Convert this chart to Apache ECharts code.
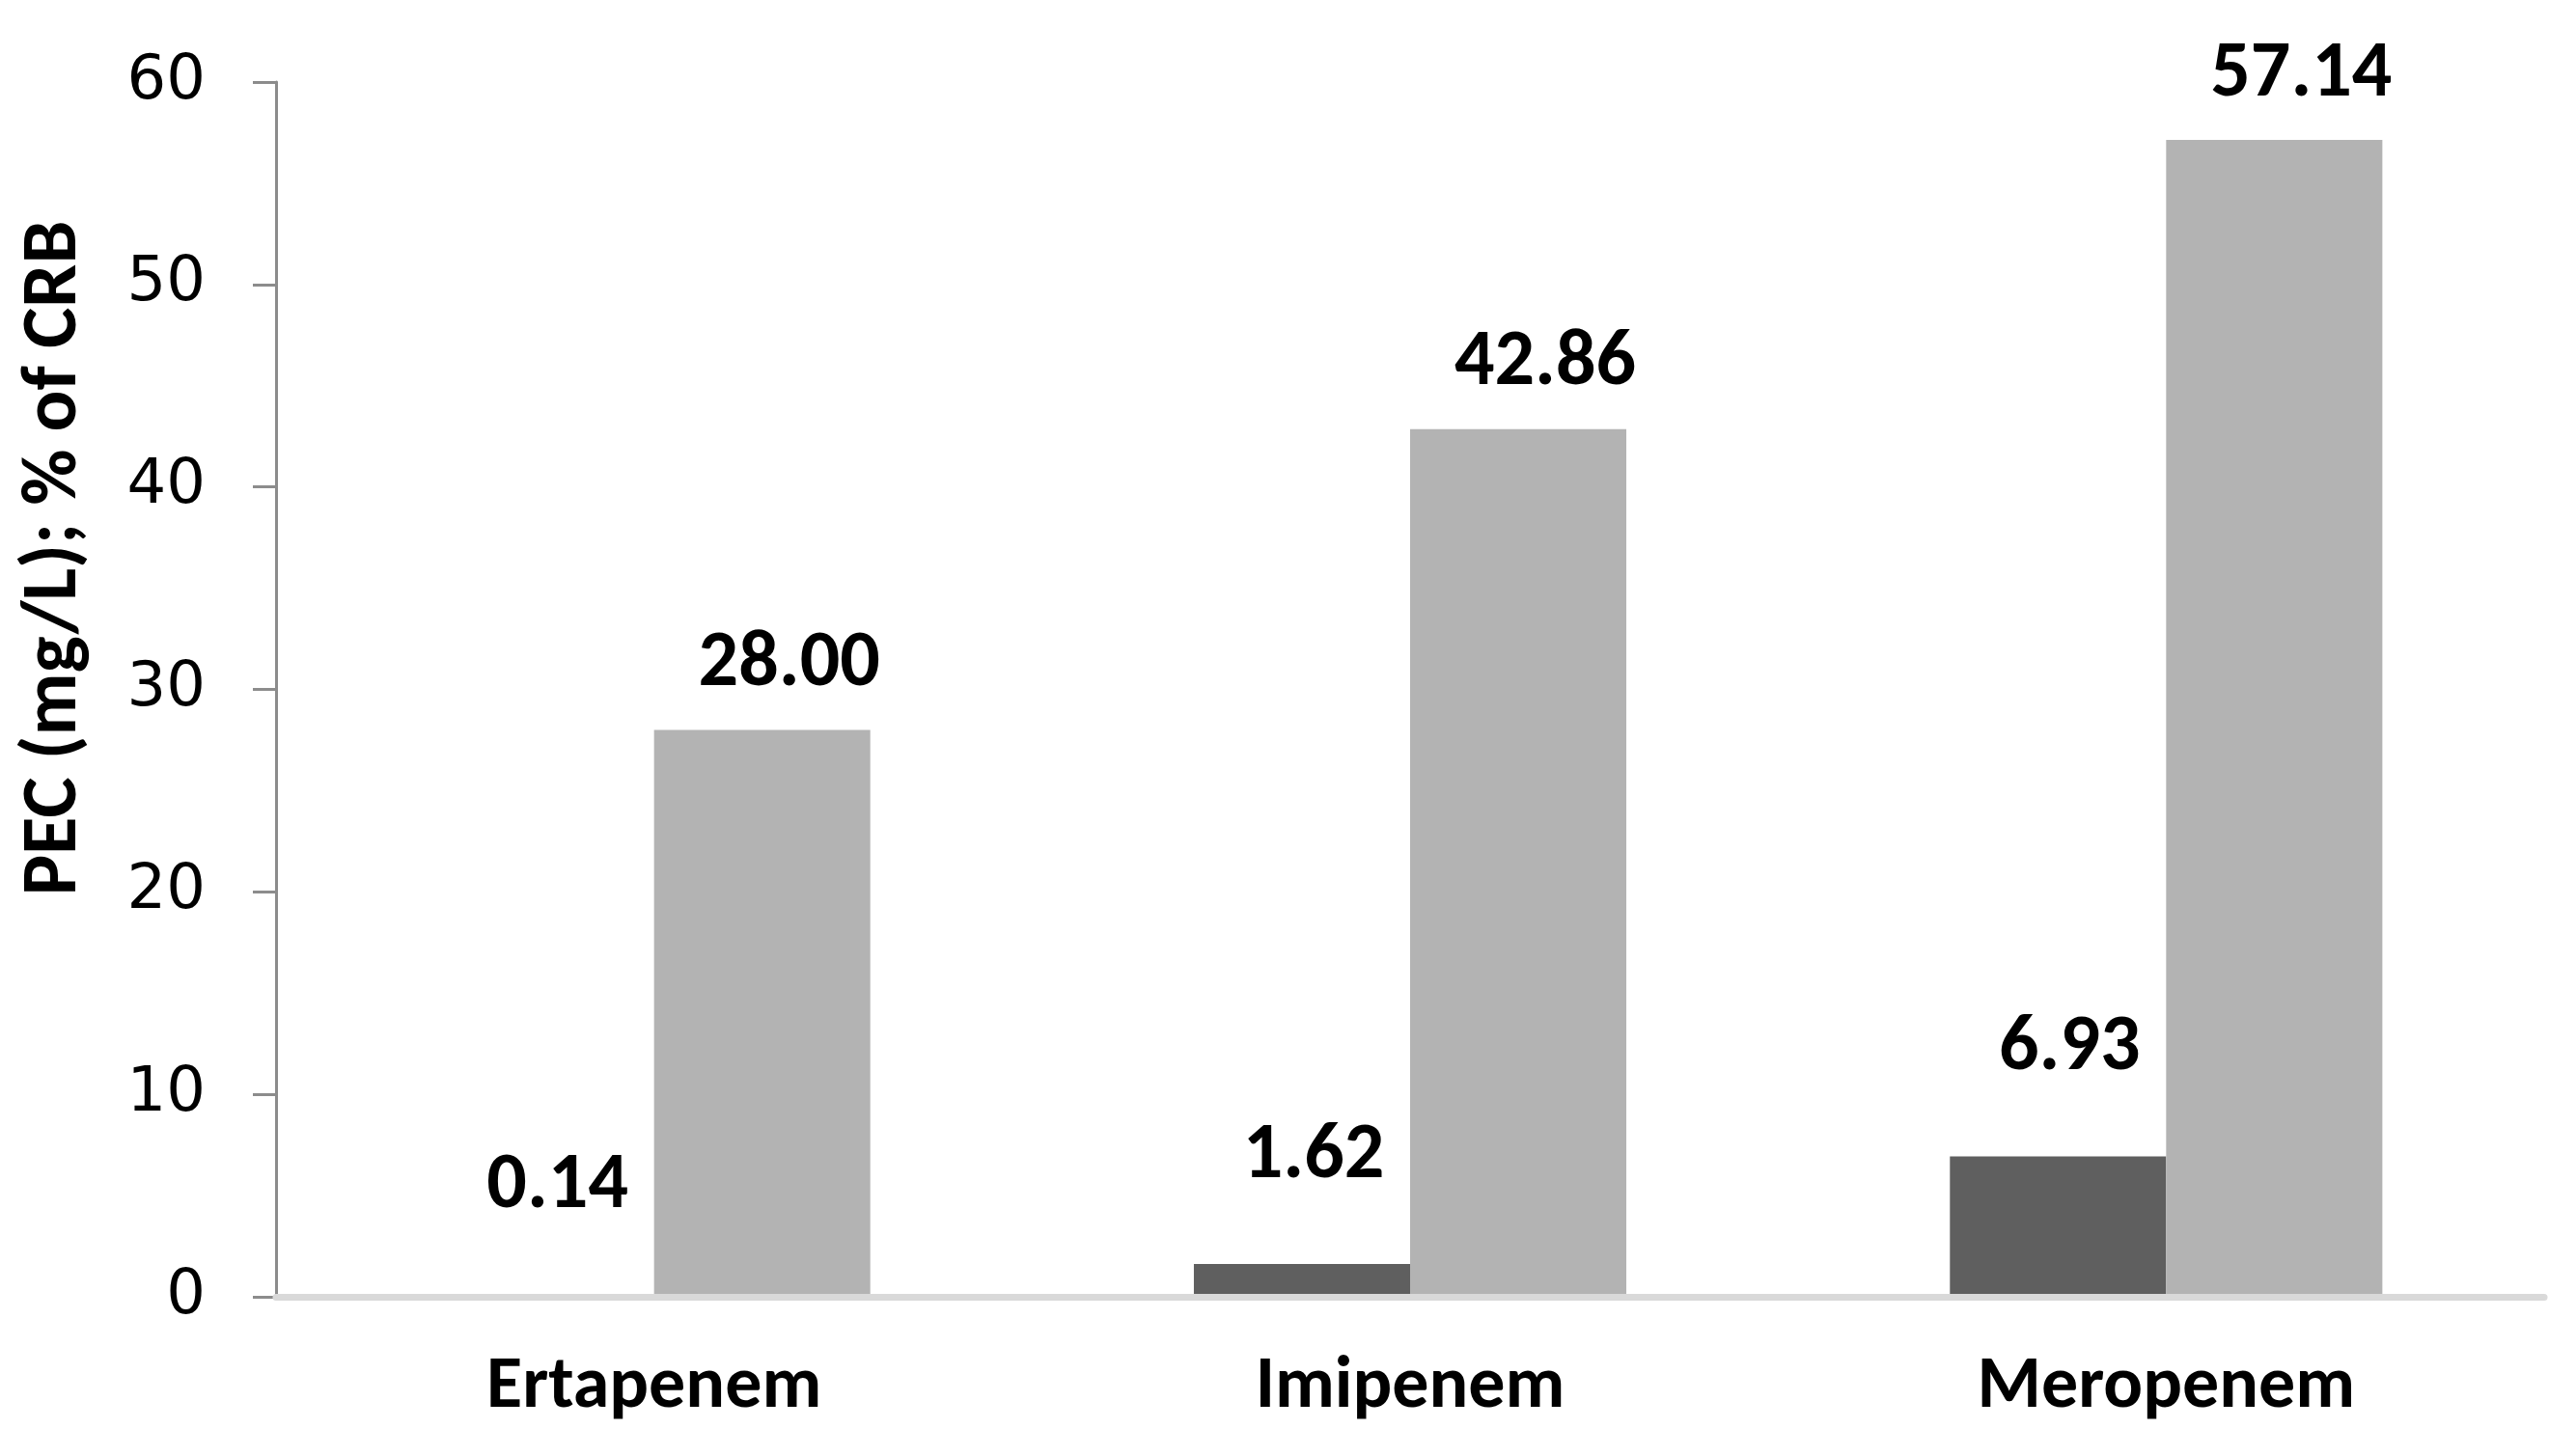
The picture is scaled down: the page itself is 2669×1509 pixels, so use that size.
<!DOCTYPE html>
<html>
<head>
<meta charset="utf-8">
<script src="https://cdn.jsdelivr.net/npm/echarts@6/dist/echarts.min.js"></script>
<style>
  html, body { margin: 0; padding: 0; background: #fff; }
  #chart { width: 2669px; height: 1509px; }
</style>
</head>
<body>
<div id="chart"></div>
<script>
// carbapenems on the x axis
const drugs = ['Ertapenem', 'Imipenem', 'Meropenem'];
// PEC (mg/L), dark bars
const pecValues = [0.14, 1.62, 6.93];
// % of CRB, light bars
const crbValues = [28.00, 42.86, 57.14];
// y axis
const yTicks = [0, 10, 20, 30, 40, 50, 60];

const calibriLike = "Carlito, 'Liberation Sans Narrow', 'Arial Narrow', Roboto, sans-serif";

let chart = echarts.init(document.getElementById('chart'));

let labelStyle = {
  show: true,
  position: 'top',
  fontFamily: calibriLike,
  fontWeight: 'bold',
  fontSize: 82,
  color: '#000',
  formatter: p => p.value.toFixed(2)
};

let option = {
  animation: false,
  backgroundColor: '#fff',
  grid: {
    left: 286,
    right: 33,
    top: 85,
    bottom: 165
  },
  xAxis: {
    type: 'category',
    data: drugs,
    z: 3,
    axisLine: { lineStyle: { color: '#d9d9d9', width: 7 } },
    axisTick: { show: false },
    axisLabel: {
      margin: 57,
      fontFamily: calibriLike,
      fontWeight: 'bold',
      fontSize: 76,
      color: '#000'
    }
  },
  yAxis: {
    type: 'value',
    min: yTicks[0],
    max: yTicks[yTicks.length - 1],
    interval: 10,
    name: 'PEC (mg/L); % of CRB',
    nameLocation: 'middle',
    nameGap: 188,
    nameTextStyle: {
      fontFamily: calibriLike,
      fontWeight: 'bold',
      fontSize: 80,
      color: '#000',
      padding: [0, 0, 0, 272]
    },
    splitLine: { show: false },
    axisLine: { show: true, lineStyle: { color: '#8c8c8c', width: 3 } },
    axisTick: { show: true, length: 24, lineStyle: { color: '#8c8c8c', width: 3 } },
    axisLabel: {
      margin: 73,
      fontFamily: 'DejaVu Sans',
      fontSize: 64,
      color: '#000'
    }
  },
  series: [
    {
      name: 'PEC (mg/L)',
      type: 'bar',
      data: pecValues,
      barGap: '0%',
      barCategoryGap: '42.8%',
      itemStyle: { color: '#5f5f5f' },
      label: Object.assign({}, labelStyle, { distance: 70, offset: [12, 0] })
    },
    {
      name: '% of CRB',
      type: 'bar',
      data: crbValues,
      barGap: '0%',
      barCategoryGap: '42.8%',
      itemStyle: { color: '#b3b3b3' },
      label: Object.assign({}, labelStyle, { distance: 26, offset: [28, 0] })
    }
  ]
};

chart.setOption(option);
</script>
</body>
</html>
